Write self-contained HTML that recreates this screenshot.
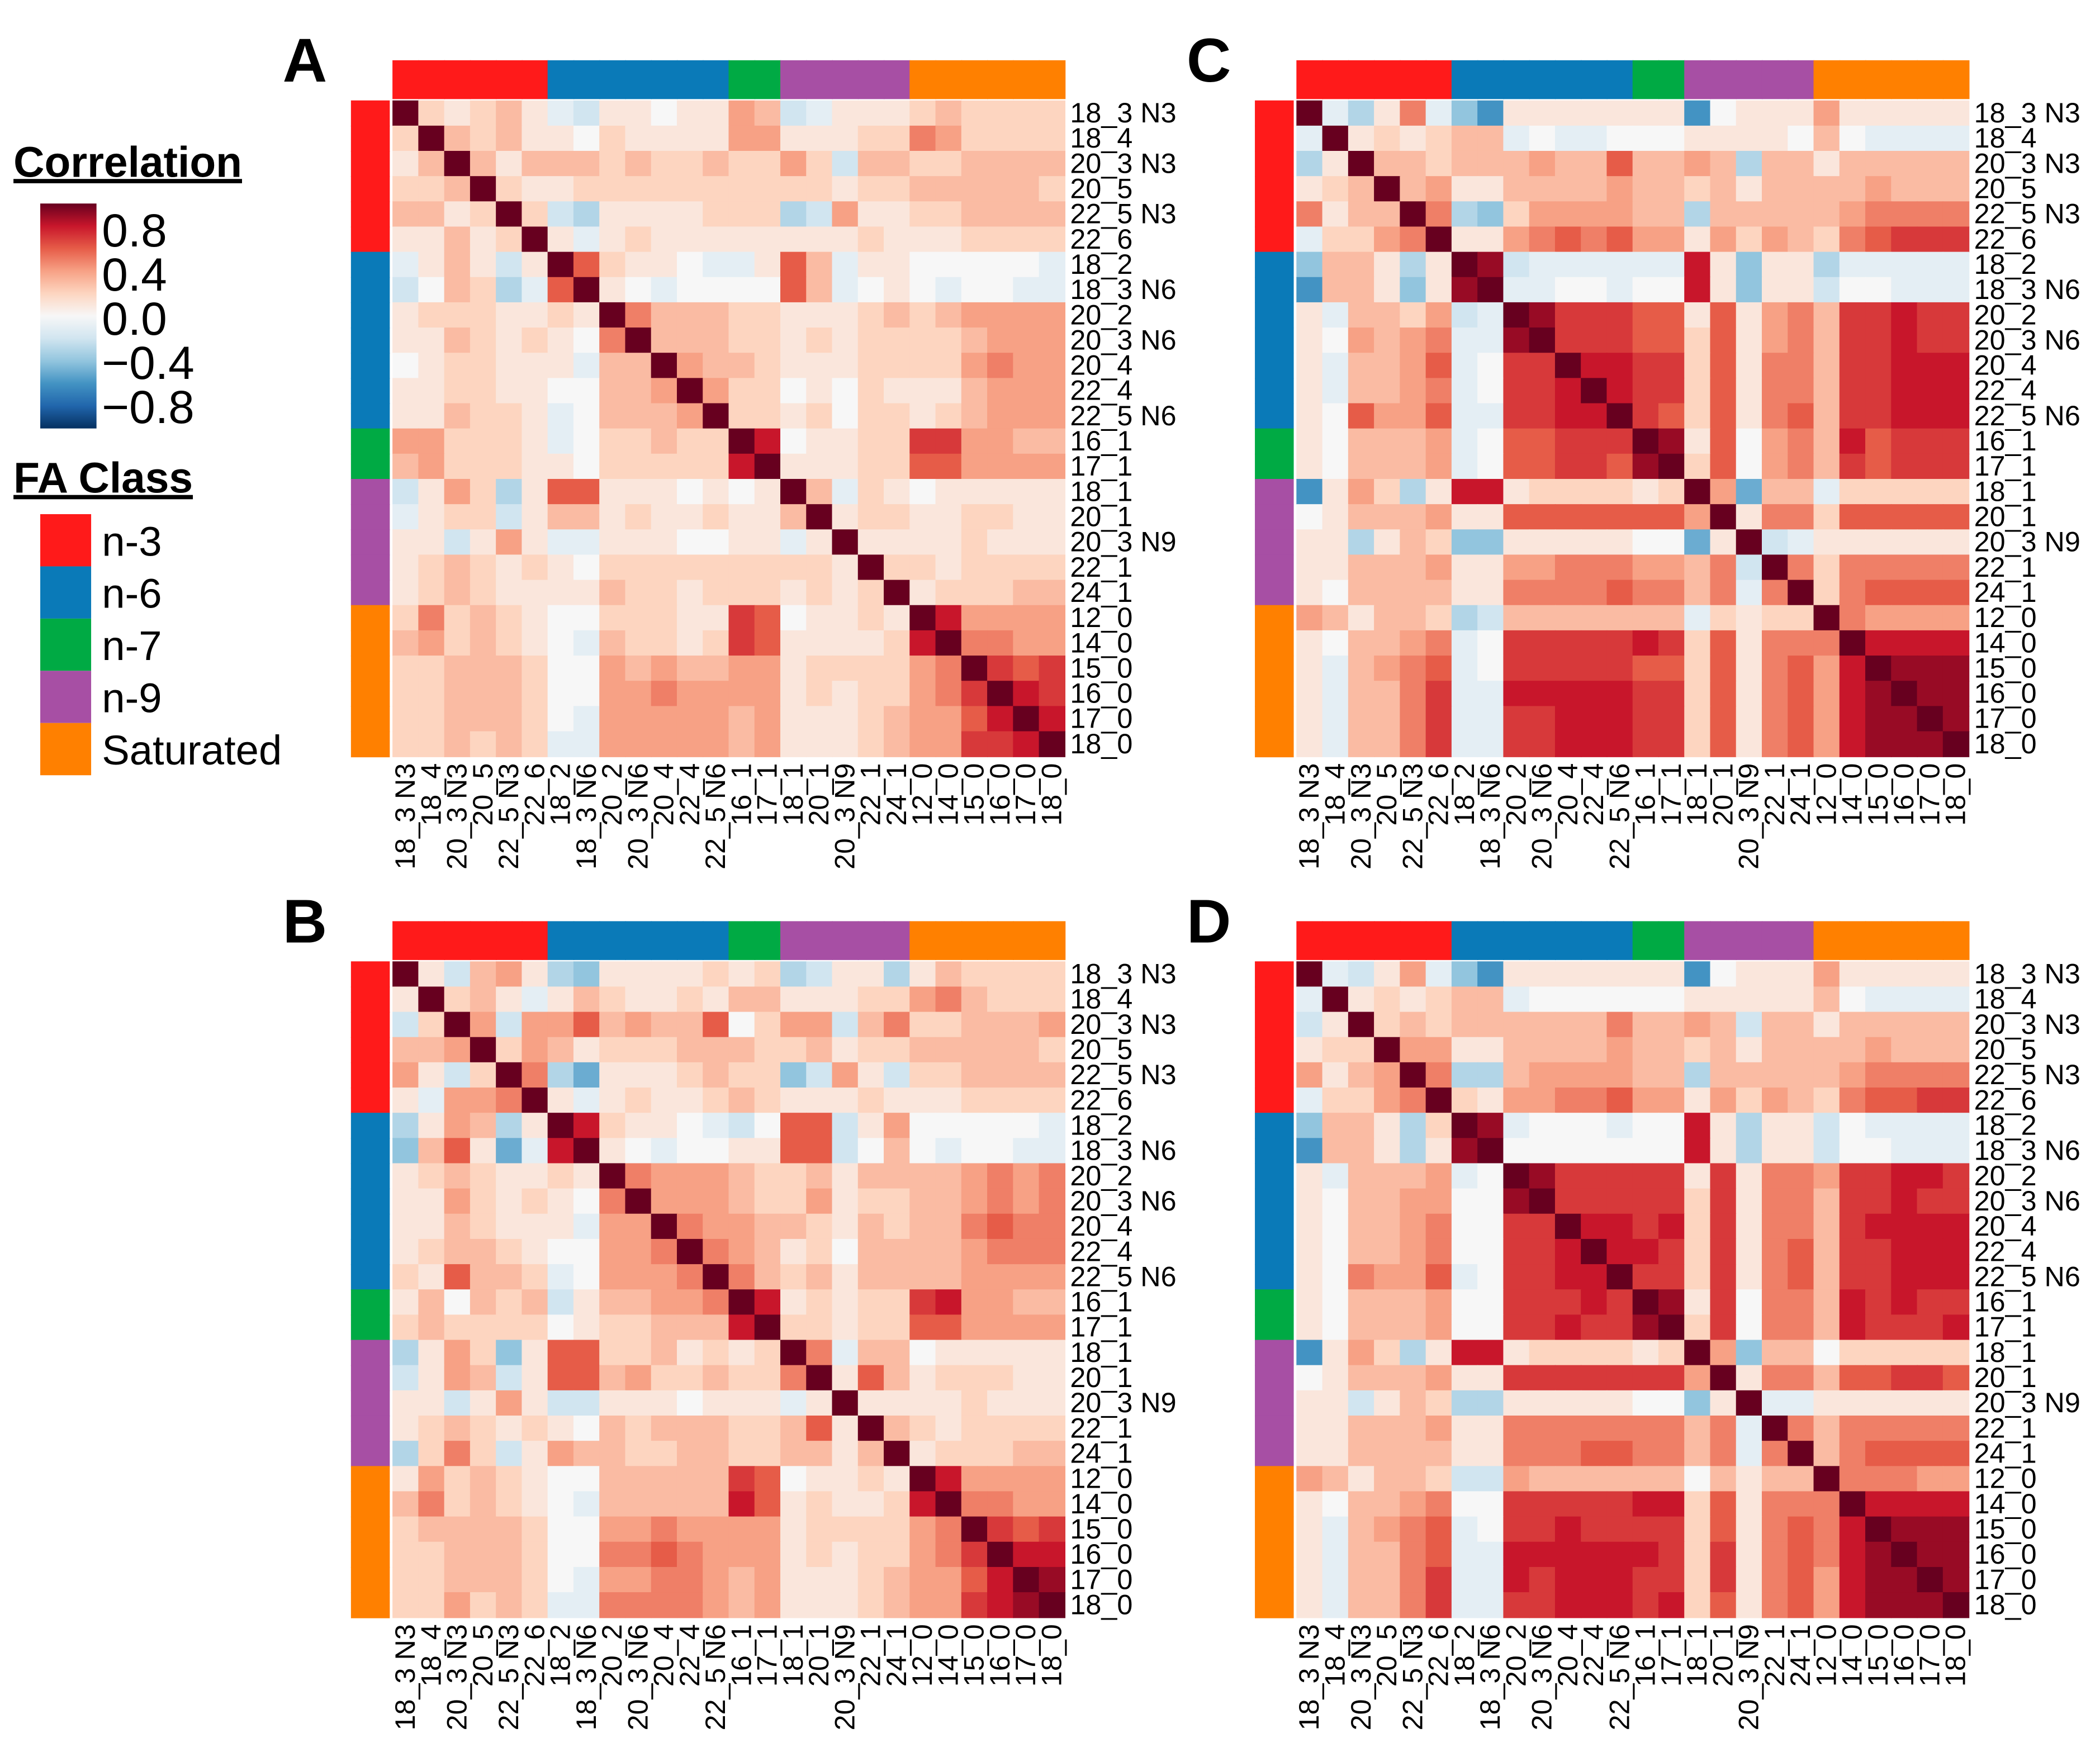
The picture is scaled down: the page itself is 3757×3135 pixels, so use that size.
<!DOCTYPE html>
<html><head><meta charset="utf-8"><style>
html,body{margin:0;padding:0;background:#fff;}
svg{display:block;}
text{font-family:"Liberation Sans",Arial,sans-serif;}
</style></head><body>
<svg id="fig" width="3757" height="3135" viewBox="0 0 1568 1308.5" xmlns="http://www.w3.org/2000/svg">
<g id="legend">
<text x="10" y="132" font-size="32" font-weight="bold" text-decoration="underline">Correlation</text>
<defs><linearGradient id="cg" x1="0" y1="1" x2="0" y2="0">
<stop offset="0" stop-color="#053061"/><stop offset="0.1" stop-color="#2166ac"/><stop offset="0.2" stop-color="#4393c3"/><stop offset="0.3" stop-color="#92c5de"/><stop offset="0.4" stop-color="#d1e5f0"/><stop offset="0.5" stop-color="#f7f7f7"/><stop offset="0.6" stop-color="#fdd5c0"/><stop offset="0.7" stop-color="#f7a185"/><stop offset="0.8" stop-color="#e65c48"/><stop offset="0.9" stop-color="#c8162b"/><stop offset="1" stop-color="#67001f"/></linearGradient></defs>
<rect x="30" y="152" width="42" height="168" fill="url(#cg)"/>
<text x="76" y="184" font-size="35">0.8</text>
<text x="76" y="217" font-size="35">0.4</text>
<text x="76" y="250" font-size="35">0.0</text>
<text x="76" y="283" font-size="35">−0.4</text>
<text x="76" y="316" font-size="35">−0.8</text>
<text x="10" y="368" font-size="32" font-weight="bold" text-decoration="underline">FA Class</text>
<rect x="30" y="384" width="38" height="39" fill="#ff1a1a"/>
<rect x="30" y="423" width="38" height="39" fill="#0a7ab8"/>
<rect x="30" y="462" width="38" height="39" fill="#00aa44"/>
<rect x="30" y="501" width="38" height="39" fill="#a74fa4"/>
<rect x="30" y="540" width="38" height="39" fill="#ff8000"/>
<text x="76" y="415" font-size="31">n-3</text>
<text x="76" y="454" font-size="31">n-6</text>
<text x="76" y="493" font-size="31">n-7</text>
<text x="76" y="532" font-size="31">n-9</text>
<text x="76" y="571" font-size="31">Saturated</text>
</g>
</svg>
<script>
const labels=["18_3 N3","18_4","20_3 N3","20_5","22_5 N3","22_6","18_2","18_3 N6","20_2","20_3 N6","20_4","22_4","22_5 N6","16_1","17_1","18_1","20_1","20_3 N9","22_1","24_1","12_0","14_0","15_0","16_0","17_0","18_0"];
const classes=[0,0,0,0,0,0,1,1,1,1,1,1,1,2,2,3,3,3,3,3,4,4,4,4,4,4];
const classColors=["#ff1a1a","#0a7ab8","#00aa44","#a74fa4","#ff8000"];
// lower triangles, values in tenths of correlation
const panelA=[[2],[1,3],[2,2,3],[3,3,1,2],[1,1,3,1,2],[-1,1,3,1,-2,1],[-2,0,3,2,-3,-1,6],[1,2,2,2,1,1,2,1],[1,1,3,2,1,2,1,0,5],[0,1,2,2,1,1,1,-1,3,3],[1,1,2,2,1,1,0,0,3,3,4],[1,1,3,2,2,1,-1,0,3,3,3,4],[4,4,2,2,2,1,-1,0,2,2,3,2,2],[3,4,2,2,2,1,1,0,2,2,2,2,2,8],[-2,1,4,2,-3,1,6,6,1,1,1,0,1,0,1],[-1,1,2,2,-2,1,3,3,1,2,1,1,2,1,1,3],[1,1,-2,1,4,1,-1,-1,1,1,1,0,0,1,1,-1,1],[1,2,3,2,1,2,1,0,2,2,2,2,2,2,2,2,2,1],[1,2,3,2,1,1,1,1,3,2,2,1,2,2,2,1,2,1,2],[2,5,2,3,2,1,0,0,2,2,2,1,1,7,6,0,1,1,2,1],[3,4,2,3,2,1,0,-1,3,2,2,1,2,7,6,1,1,1,1,2,8],[2,2,3,3,3,2,0,0,4,3,4,3,3,4,4,1,2,2,2,2,4,5],[2,2,3,3,3,2,0,0,4,4,5,4,4,4,4,1,2,1,2,2,4,5,7],[2,2,3,3,3,2,0,-1,4,4,4,4,4,3,4,1,1,1,2,3,4,4,6,8],[2,2,3,2,3,2,-1,-1,4,4,4,4,4,3,4,1,1,1,2,3,4,4,7,7,8]];
const panelB=[[1],[-2,2],[3,3,4],[4,1,-2,2],[1,-1,4,4,5],[-3,1,4,3,-3,1],[-4,3,6,1,-5,-1,8],[1,2,3,2,1,1,2,1],[1,1,4,2,1,2,1,0,5],[1,1,3,2,1,1,1,-1,4,4],[1,2,3,3,2,1,0,0,4,4,5],[2,1,6,3,3,2,-1,0,4,4,4,5],[1,3,0,3,2,3,-2,1,3,3,4,4,5],[2,3,2,2,2,2,0,1,2,2,3,3,3,8],[-3,1,4,2,-4,1,6,6,2,2,3,1,2,1,2],[-2,1,4,3,-2,1,6,6,3,4,2,2,3,2,2,5],[1,1,-2,1,4,1,-2,-2,1,1,1,0,1,1,1,-1,1],[1,2,3,2,1,2,1,0,3,2,3,3,3,2,2,3,6,1],[-3,2,5,2,-2,1,4,3,3,2,2,3,3,2,2,3,3,1,3],[1,4,2,3,2,1,0,0,3,3,3,3,3,7,6,0,1,1,2,1],[3,5,2,3,2,1,0,-1,3,3,3,3,3,8,6,1,2,1,1,2,8],[2,3,3,3,3,2,0,0,4,4,5,4,4,4,4,1,2,2,2,2,4,5],[2,2,3,3,3,2,0,0,5,5,6,5,4,4,4,1,2,1,2,2,4,5,7],[2,2,3,3,3,2,0,-1,4,4,5,5,4,3,4,1,1,1,2,3,4,4,6,8],[2,2,4,2,3,2,-1,-1,5,5,5,5,4,3,4,1,1,1,2,3,4,4,7,8,9]];
const panelC=[[-1],[-3,1],[1,2,3],[5,1,3,3],[-1,2,2,4,5],[-4,3,3,1,-3,1],[-6,3,3,1,-4,1,9],[1,-1,3,3,2,4,-2,-1],[1,0,4,3,4,5,-1,-1,9],[1,-1,3,3,4,6,-1,0,7,7],[1,-1,3,3,4,5,-1,0,7,7,8],[1,0,6,4,4,6,-1,-1,7,7,8,8],[1,0,3,3,3,4,-1,0,6,6,7,7,7],[1,0,3,3,3,4,-1,0,6,6,7,7,6,9],[-6,1,4,2,-3,1,8,8,1,2,2,2,2,1,2],[0,1,3,3,3,4,1,1,6,6,6,6,6,6,6,4],[1,1,-3,1,3,2,-4,-4,1,1,1,1,1,0,0,-5,1],[1,1,3,3,3,4,1,1,4,4,5,5,5,4,4,3,5,-2],[1,0,3,3,3,3,1,1,5,5,5,5,6,5,5,3,5,-1,5],[4,3,1,3,3,2,-3,-2,3,3,3,3,3,3,3,-1,2,1,2,2],[1,0,3,3,4,5,-1,0,7,7,7,7,7,8,7,2,6,1,5,5,5],[1,-1,3,4,5,6,-1,0,7,7,7,7,7,6,6,2,6,1,5,6,4,8],[1,-1,3,3,5,7,-1,-1,8,8,8,8,8,7,7,2,6,1,5,6,4,8,9],[1,-1,3,3,5,7,-1,-1,7,7,8,8,8,7,7,2,6,1,5,6,4,8,9,9],[1,-1,3,3,5,7,-1,-1,7,7,8,8,8,7,7,2,6,1,5,6,4,8,9,9,9]];
const panelD=[[-1],[-2,1],[1,2,2],[4,1,3,4],[-1,2,2,4,5],[-4,3,3,1,-3,2],[-6,3,3,1,-3,1,9],[1,-1,3,3,3,4,-1,0],[1,0,3,3,4,4,0,0,9],[1,0,3,3,4,5,0,0,7,7],[1,0,3,3,4,5,0,0,7,7,8],[1,0,5,4,4,6,-1,0,7,7,8,8],[1,0,3,3,3,4,0,0,7,7,7,8,7],[1,0,3,3,3,4,0,0,7,7,8,7,7,9],[-6,1,4,2,-3,1,8,8,1,2,2,2,2,1,2],[0,1,3,3,3,4,1,1,7,7,7,7,7,7,7,4],[1,1,-2,1,3,2,-3,-3,1,1,1,1,1,0,0,-4,1],[1,1,3,3,3,4,1,1,5,5,5,5,5,5,5,3,5,-1],[1,1,3,3,3,3,1,1,5,5,5,6,6,5,5,3,5,-1,5],[4,3,1,3,3,2,-2,-2,4,3,3,3,3,3,3,0,3,1,3,3],[1,0,3,3,4,5,0,0,7,7,7,7,7,8,8,2,6,1,5,5,5],[1,-1,3,4,5,6,-1,0,7,7,8,7,7,7,7,2,6,1,5,6,5,8],[1,-1,3,3,5,6,-1,-1,8,8,8,8,8,8,7,2,7,1,5,6,5,8,9],[1,-1,3,3,5,7,-1,-1,8,7,8,8,8,7,7,2,7,1,5,6,4,8,9,9],[1,-1,3,3,5,7,-1,-1,7,7,8,8,8,7,8,2,6,1,5,6,4,8,9,9,9]];
const panelNames=["A","B","C","D"];
const panelData=[panelA,panelB,panelC,panelD];

const stops=["#053061","#2166ac","#4393c3","#92c5de","#d1e5f0","#f7f7f7","#fdd5c0","#f7a185","#e65c48","#c8162b","#67001f"];
function hex(c){return [1,3,5].map(i=>parseInt(c.substr(i,2),16));}
function color(v){v=Math.max(-1,Math.min(1,v));const t=(v+1)/2*10;const i=Math.min(9,Math.floor(t));const f=t-i;const a=hex(stops[i]),b=hex(stops[i+1]);return "rgb("+a.map((x,k)=>Math.round(x+(b[k]-x)*f)).join(",")+")";}
const NS="http://www.w3.org/2000/svg";
const svg=document.getElementById("fig");
function mk(tag,attrs,parent){const e=document.createElementNS(NS,tag);for(const k in attrs)e.setAttribute(k,attrs[k]);parent.appendChild(e);return e;}
const origins=[[293,75],[293,718],[968,75],[968,718]];
const W=502,H=490,n=labels.length,cw=W/n,ch=H/n;
function val(tri,i,j){if(i===j)return 1;return i>j?tri[i-1][j]/10:tri[j-1][i]/10;}
panelData.forEach((tri,p)=>{
  const [ox,oy]=origins[p];
  const g=mk("g",{},svg);
  
  
  const L=mk("text",{x:ox-82,y:oy-14,"font-size":46,"font-weight":"bold"},g);L.textContent=panelNames[p];
  
  
  for(let k=0;k<n;k++){
    const t=mk("rect",{x:ox+k*cw,y:oy-30,width:cw+0.6,height:29,fill:classColors[classes[k]]},g);
    
    
    const l=mk("rect",{x:ox-31,y:oy+k*ch,width:29,height:ch+0.6,fill:classColors[classes[k]]},g);
    
    
  }
  for(let i=0;i<n;i++)for(let j=0;j<n;j++){
    const r=mk("rect",{x:ox+j*cw,y:oy+i*ch,width:cw+0.5,height:ch+0.5,fill:color(val(tri,i,j))},g);
    
    
  }
  for(let k=0;k<n;k++){
    const rl=mk("text",{x:ox+W+4,y:oy+k*ch+ch/2+7,"font-size":21},g);rl.textContent=labels[k];
    
    
    const cx=ox+k*cw+cw/2+7,cy=oy+H+5;
    const cl=mk("text",{x:cx,y:cy,"font-size":21,"text-anchor":"end",transform:"rotate(-90 "+cx+" "+cy+")"},g);cl.textContent=labels[k];
    
    
  }
});
</script>
</body></html>
